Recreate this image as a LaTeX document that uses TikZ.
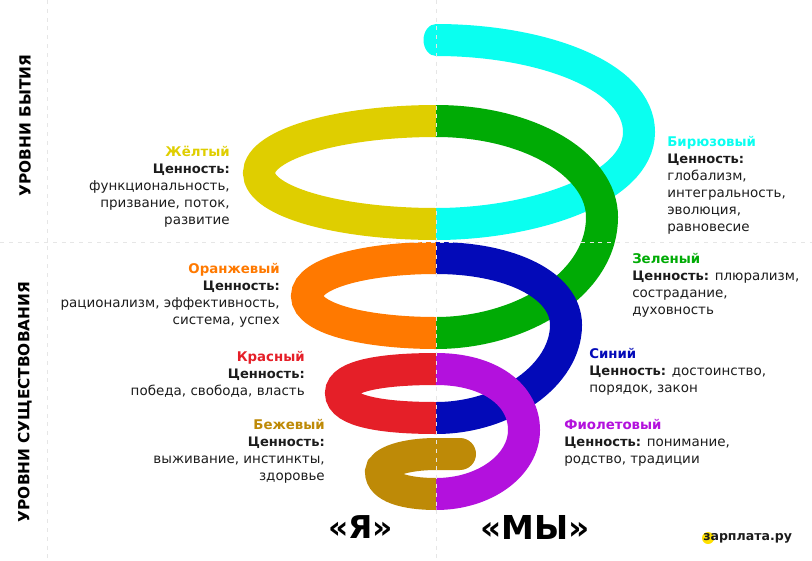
\documentclass[tikz,border=0pt]{standalone}
\usepackage{fontspec}
\setmainfont{DejaVu Sans}
\usepackage{tikz}
\usetikzlibrary{calc}
\usetikzlibrary{positioning}
\definecolor{cyancoil}{HTML}{0AFFF0}
\definecolor{yellowcoil}{HTML}{DFCE00}
\definecolor{greencoil}{HTML}{00AB05}
\definecolor{orangecoil}{HTML}{FF7900}
\definecolor{bluecoil}{HTML}{030AB8}
\definecolor{redcoil}{HTML}{E51F28}
\definecolor{purplecoil}{HTML}{B311DD}
\definecolor{beigecoil}{HTML}{BE8A07}
\definecolor{gridgrey}{HTML}{E6E6E6}
\definecolor{logoyellow}{HTML}{FFE000}
\definecolor{inktext}{HTML}{1C1C1C}
\tikzstyle{coil} = [line width=24pt]
\tikzstyle{grid} = [draw=gridgrey, line width=0.75pt, dash pattern=on 3pt off 3.6pt]
\tikzstyle{infobase} = [inner sep=0pt, text=inktext, execute at begin node=\strut,
    font=\fontsize{10.1pt}{12.75pt}\selectfont]
\tikzstyle{infoleft} = [infobase, anchor=north west, align=left]
\tikzstyle{inforight} = [infobase, anchor=north east, align=right]
\tikzstyle{level} = [inner sep=0pt, rotate=90, text=black,
    font=\fontsize{11.5pt}{13pt}\selectfont\bfseries]
\tikzstyle{who} = [inner sep=0pt, text=black, font=\fontsize{24.7pt}{28pt}\selectfont\bfseries]
\newcommand{\cenn}{{\fontsize{9.8pt}{12.75pt}\selectfont\bfseries Ценность:}}
\newcommand{\ttl}[2]{{\fontsize{10pt}{12.75pt}\selectfont\bfseries\textcolor{#1}{#2}}}
\begin{document}
\begin{tikzpicture}[x=0.75pt, y=-0.75pt]
    \useasboundingbox (0,0) rectangle (812,560);
    % Draw coils
    \fill [cyancoil] (436,40) ellipse [x radius=12.5, y radius=16];
    \draw [coil, cyancoil] (436,40) .. controls (540,40) and (639,75) .. (639,132)
        .. controls (639,190) and (530,224) .. (436,224);
    \draw [coil, yellowcoil] (436,224) .. controls (340,224) and (259,202) .. (259,173)
        .. controls (259,144) and (340,121) .. (436,121);
    \draw [coil, greencoil] (436,121) .. controls (530,121) and (602,165) .. (602,217)
        .. controls (602,285) and (520,333) .. (436,333);
    \draw [coil, orangecoil] (436,333) .. controls (370,333) and (307,320) .. (307,296)
        .. controls (307,272) and (370,258) .. (436,258);
    \draw [coil, bluecoil] (436,258) .. controls (510,258) and (566,285) .. (566,325)
        .. controls (566,375) and (505,418) .. (436,418);
    \draw [coil, redcoil] (436,418) .. controls (385,418) and (341,412) .. (341,393)
        .. controls (341,375) and (385,369) .. (436,369);
    \draw [coil, purplecoil] (436,369) .. controls (490,369) and (524,395) .. (524,430)
        .. controls (524,465) and (485,494) .. (436,494);
    \draw [coil, beigecoil] (436,494) .. controls (405,494) and (381,487) .. (381,472)
        .. controls (381,462) and (405,454) .. (436,454) -- (460,454);
    \draw [coil, beigecoil, line cap=round] (460,454) -- (460.01,454);
    % Draw grid
    \draw [grid] (0,242) -- (812,242);
    \draw [grid] (47,0) -- (47,560);
    \draw [grid] (436,0) -- (436,560);
    % Place nodes
    \node [infoleft] (turq) at (667,136) {\ttl{cyancoil}{Бирюзовый}\\ \cenn\\ глобализм,\\ интегральность,\\ эволюция,\\ равновесие};
    \node [inforight] (yellow) at (230,146) {\ttl{yellowcoil}{Жёлтый}\\ \cenn\\ функциональность,\\ призвание, поток,\\ развитие};
    \node [infoleft] (green) at (632,253) {\ttl{greencoil}{Зеленый}\\ \cenn{} плюрализм,\\ сострадание,\\ духовность};
    \node [inforight] (orange) at (280,263) {\ttl{orangecoil}{Оранжевый}\\ \cenn\hspace{3pt}\\ рационализм, эффективность,\\ система, успех};
    \node [infoleft] (blue) at (589,348) {\ttl{bluecoil}{Синий}\\ \cenn{} достоинство,\\ порядок, закон};
    \node [inforight] (red) at (305,351) {\ttl{redcoil}{Красный}\\ \cenn\\ победа, свобода, власть};
    \node [infoleft] (purple) at (564,419) {\ttl{purplecoil}{Фиолетовый}\\ \cenn{} понимание,\\ родство, традиции};
    \node [inforight] (beige) at (325,419) {\ttl{beigecoil}{Бежевый}\\ \cenn\\ выживание, инстинкты,\\ здоровье};
    \node [level] (being) at (25,125.5) {УРОВНИ БЫТИЯ};
    \node [level] (exist) at (25,402) {УРОВНИ СУЩЕСТВОВАНИЯ};
    \node [who, font=\fontsize{23.6pt}{28pt}\selectfont\bfseries] (me) at (360.5,527) {«Я»};
    \node [who] (we) at (535,527) {«МЫ»};
    \node [circle, fill=logoyellow, minimum size=9pt, inner sep=0pt] (dot) at (708,538) {};
    \node [inner sep=0pt, anchor=west, text=inktext, font=\fontsize{9.4pt}{11pt}\selectfont\bfseries] (logo) at (703,538) {зарплата.ру};
\end{tikzpicture}
\end{document}
